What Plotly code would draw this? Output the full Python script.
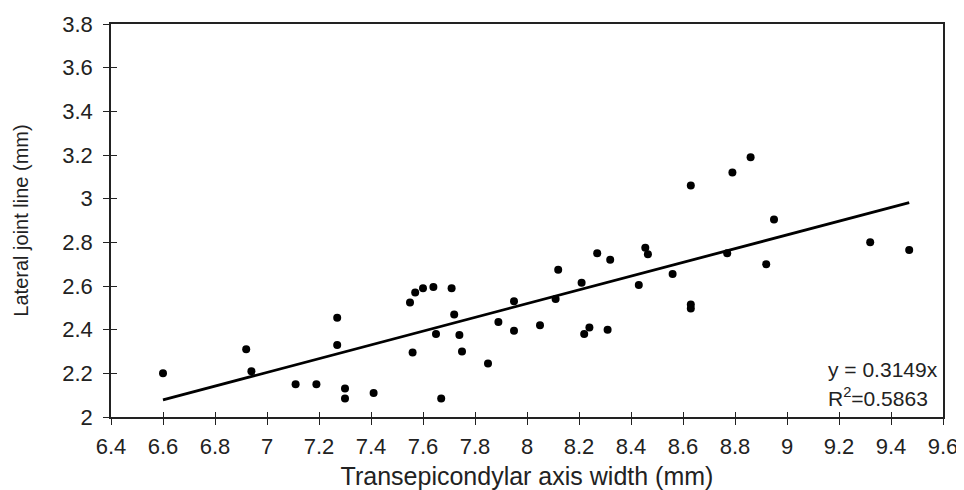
import plotly.graph_objects as go

# transepicondylar axis width (mm) vs lateral joint line (mm)
width_mm = [6.60, 6.92, 6.94, 7.11, 7.19, 7.27, 7.27, 7.30, 7.30, 7.41,
            7.55, 7.57, 7.60, 7.64, 7.71, 7.72, 7.56, 7.65, 7.74, 7.75,
            7.67, 7.85, 7.89, 7.95, 7.95, 8.05, 8.11, 8.12, 8.21, 8.22,
            8.24, 8.27, 8.32, 8.31, 8.43, 8.455, 8.465, 8.56, 8.63, 8.63,
            8.63, 8.77, 8.79, 8.86, 8.92, 8.95, 9.32, 9.47]
joint_mm = [2.20, 2.31, 2.21, 2.15, 2.15, 2.455, 2.33, 2.13, 2.085, 2.11,
            2.525, 2.57, 2.59, 2.595, 2.59, 2.47, 2.295, 2.38, 2.375, 2.30,
            2.085, 2.245, 2.435, 2.53, 2.395, 2.42, 2.54, 2.675, 2.615, 2.38,
            2.41, 2.75, 2.72, 2.40, 2.605, 2.775, 2.745, 2.655, 3.06, 2.515,
            2.497, 2.75, 3.12, 3.19, 2.70, 2.905, 2.80, 2.765]

slope = 0.3149
r2 = 0.5863
fit_x = [min(width_mm), max(width_mm)]
fit_y = [slope * v for v in fit_x]

fnt = "Liberation Sans, Arial, sans-serif"
ink = "#222"

fig = go.Figure()
fig.add_trace(go.Scatter(x=width_mm, y=joint_mm, mode="markers",
                         marker=dict(color="black", size=8, line=dict(width=0)),
                         showlegend=False))
fig.add_trace(go.Scatter(x=fit_x, y=fit_y, mode="lines",
                         line=dict(color="black", width=2.8), showlegend=False))

fig.add_annotation(x=0.859, y=0.12, xref="paper", yref="paper", xanchor="left", yanchor="middle",
                   text="y = 0.3149x", showarrow=False, font=dict(size=21, color=ink))
fig.add_annotation(x=0.859, y=0.05, xref="paper", yref="paper", xanchor="left", yanchor="middle",
                   text=f"R<sup>2</sup>={r2}", showarrow=False, font=dict(size=21, color=ink))

# page body adds 8px on the left/top, so the figure is 8px smaller
fig.update_layout(
    width=956, height=482, template="none",
    plot_bgcolor="white", paper_bgcolor="white",
    font=dict(family=fnt, size=22, color=ink),
    margin=dict(l=103, r=21, t=16, b=73),
    xaxis=dict(range=[6.4, 9.6], dtick=0.2, tick0=6.4, showgrid=False, zeroline=False,
               showline=True, mirror=True, linecolor=ink, linewidth=1.5,
               ticks="outside", ticklen=6, tickcolor=ink, tickwidth=1.2,
               tickfont=dict(size=22), ticklabelstandoff=3, automargin=False,
               title=dict(text="Transepicondylar axis width (mm)", standoff=9,
                          font=dict(size=25, color=ink))),
    yaxis=dict(range=[2, 3.8], dtick=0.2, tick0=2, showgrid=False, zeroline=False,
               showline=True, mirror=True, linecolor=ink, linewidth=1.5,
               ticks="outside", ticklen=6, tickcolor=ink, tickwidth=1.2,
               tickfont=dict(size=22), ticklabelstandoff=6, automargin=False,
               title=dict(text="Lateral joint line (mm)", standoff=28,
                          font=dict(size=20, color=ink))),
    # inner half of the crossing tick marks
    xaxis2=dict(overlaying="x", range=[6.4, 9.6], dtick=0.2, tick0=6.4, side="bottom",
                showgrid=False, zeroline=False, showline=False, showticklabels=False,
                ticks="inside", ticklen=5, tickcolor=ink, tickwidth=1.2, automargin=False),
    yaxis2=dict(overlaying="y", range=[2, 3.8], dtick=0.2, tick0=2, side="left",
                showgrid=False, zeroline=False, showline=False, showticklabels=False,
                ticks="inside", ticklen=6, tickcolor=ink, tickwidth=1.2, automargin=False),
)
fig.add_trace(go.Scatter(x=[], y=[], xaxis="x2", yaxis="y2", showlegend=False, hoverinfo="skip"))

fig.write_html("out.html")
